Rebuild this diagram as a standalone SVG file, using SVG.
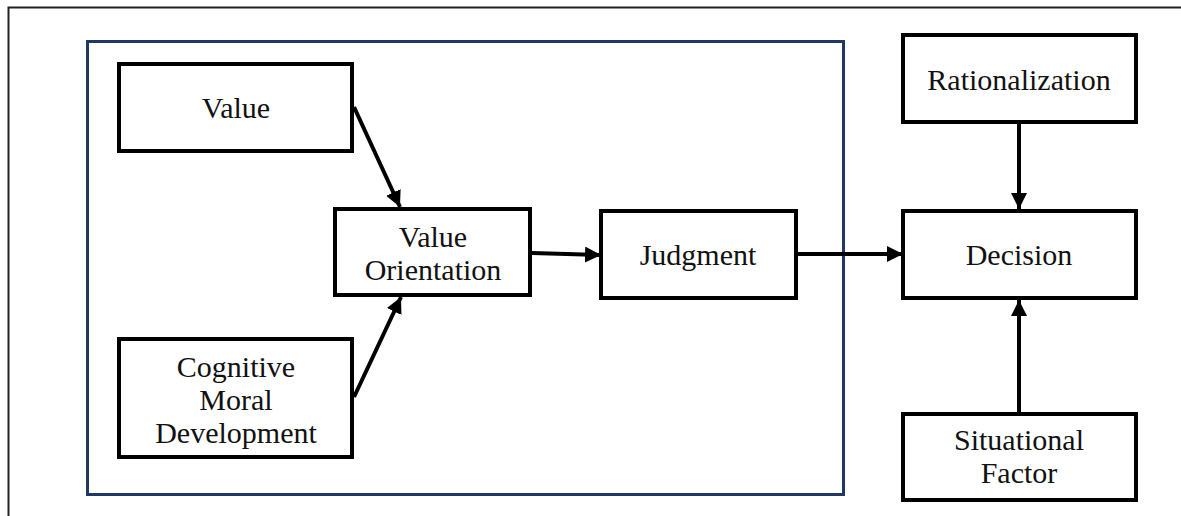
<svg xmlns="http://www.w3.org/2000/svg" width="1181" height="516" viewBox="0 0 1181 516">
<defs>
<style>
.box{fill:#fff;stroke:#000;stroke-width:4}
.t{font-family:"Liberation Serif","Times New Roman",serif;font-size:30px;fill:#111;text-anchor:middle}
.c{stroke:#000;stroke-width:4;fill:none}
</style>
<marker id="ah" viewBox="0 0 16 16" refX="16" refY="8" markerWidth="16" markerHeight="16" markerUnits="userSpaceOnUse" orient="auto">
<path d="M0,0 L16,8 L0,16 Z" fill="#000"/>
</marker>
</defs>
<rect width="1181" height="516" fill="#fff"/>
<path d="M8.5,516 V7.5 H1181" fill="none" stroke="#222" stroke-width="2"/>
<rect x="87.5" y="41.5" width="756" height="453" fill="none" stroke="#1f3864" stroke-width="3"/>
<g id="value"><rect class="box" x="119" y="64" width="233" height="87"/><text class="t" x="236" y="118">Value</text></g>
<g id="cmd"><rect class="box" x="119" y="339" width="233" height="118"/><text class="t" x="236" y="377">Cognitive</text><text class="t" x="236" y="410">Moral</text><text class="t" x="236" y="443">Development</text></g>
<g id="vo"><rect class="box" x="335" y="209" width="195" height="86"/><text class="t" x="433" y="247">Value</text><text class="t" x="433" y="280">Orientation</text></g>
<g id="judgment"><rect class="box" x="601" y="211" width="195" height="87"/><text class="t" x="698" y="265">Judgment</text></g>
<g id="decision"><rect class="box" x="903" y="211" width="233" height="87"/><text class="t" x="1019" y="265">Decision</text></g>
<g id="rationalization"><rect class="box" x="903" y="35" width="233" height="87"/><text class="t" x="1019" y="90">Rationalization</text></g>
<g id="situational"><rect class="box" x="903" y="414" width="233" height="86"/><text class="t" x="1019" y="450">Situational</text><text class="t" x="1019" y="483">Factor</text></g>
<g id="connectors">
<line class="c" x1="354" y1="107" x2="400" y2="207" marker-end="url(#ah)"/>
<line class="c" x1="354" y1="397" x2="401" y2="297" marker-end="url(#ah)"/>
<line class="c" x1="532" y1="253" x2="601" y2="255" marker-end="url(#ah)"/>
<line class="c" x1="798" y1="254" x2="903" y2="254" marker-end="url(#ah)"/>
<line class="c" x1="1019" y1="124" x2="1019" y2="209" marker-end="url(#ah)"/>
<line class="c" x1="1019" y1="412" x2="1019" y2="300" marker-end="url(#ah)"/>
</g>
</svg>
